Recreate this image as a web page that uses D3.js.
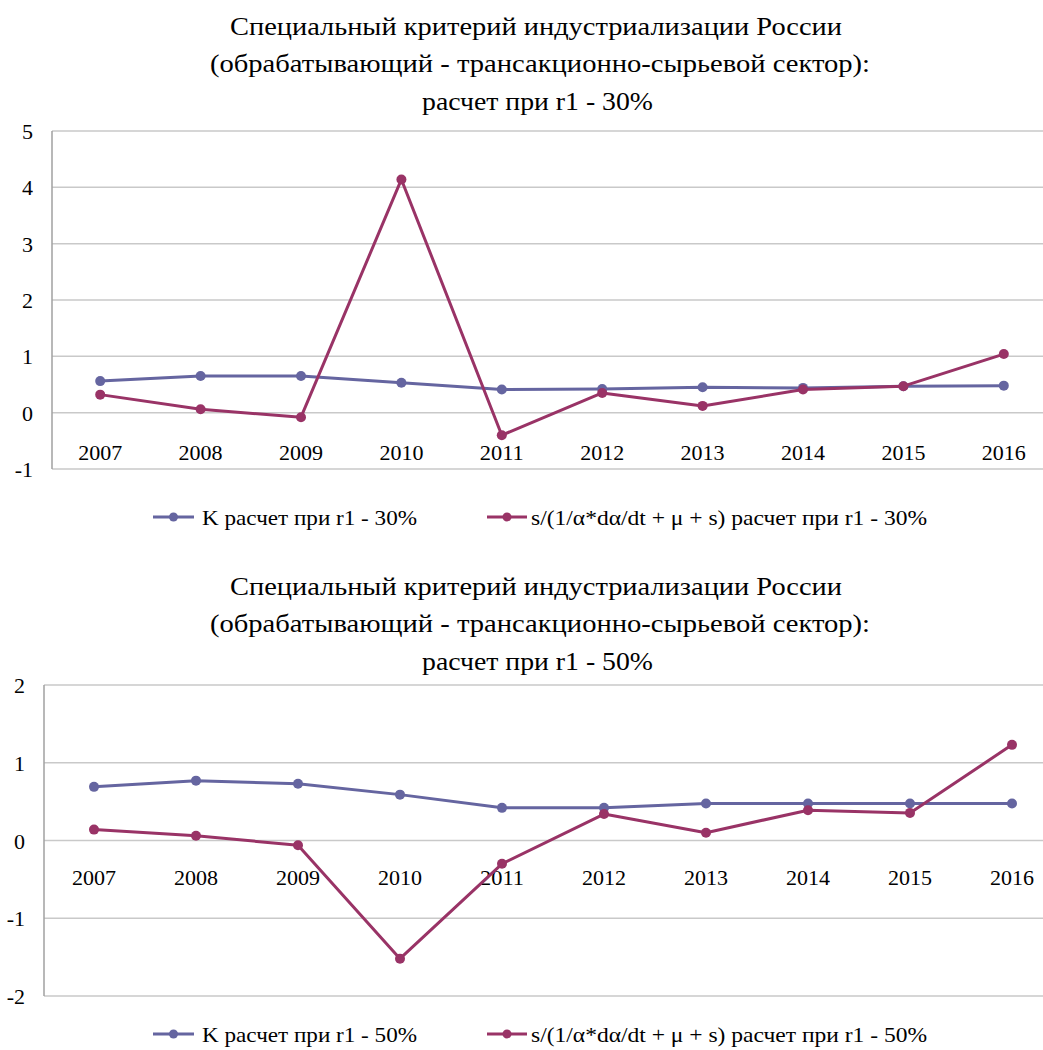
<!DOCTYPE html>
<html><head><meta charset="utf-8">
<script src="https://cdn.jsdelivr.net/npm/d3@7"></script>
<style>body{margin:0;background:#fff}svg{display:block}</style>
</head><body>
<script>
const years = ["2007","2008","2009","2010","2011","2012","2013","2014","2015","2016"];
const k30 = [0.56,0.65,0.65,0.53,0.41,0.42,0.45,0.44,0.47,0.48];
const s30 = [0.32,0.06,-0.08,4.14,-0.40,0.35,0.12,0.41,0.47,1.04];
const k50 = [0.69,0.77,0.73,0.59,0.42,0.42,0.475,0.475,0.475,0.475];
const s50 = [0.14,0.06,-0.06,-1.52,-0.30,0.34,0.10,0.39,0.355,1.23];
const yTicks30 = [-1,0,1,2,3,4,5];
const yTicks50 = [-2,-1,0,1,2];
const title30 = ["Специальный критерий индустриализации России","(обрабатывающий - трансакционно-сырьевой сектор):","расчет при r1 - 30%"];
const title50 = ["Специальный критерий индустриализации России","(обрабатывающий - трансакционно-сырьевой сектор):","расчет при r1 - 50%"];
const legend30 = ["K расчет при r1 - 30%","s/(1/α*dα/dt + μ + s) расчет при r1 - 30%"];
const legend50 = ["K расчет при r1 - 50%","s/(1/α*dα/dt + μ + s) расчет при r1 - 50%"];

const BLUE="#6565a0", RED="#993366", GRID="#c9c9c9";
const FONT="'Liberation Serif', Tinos, 'Times New Roman', 'DejaVu Serif', serif";
const titleLens=[612,660,231];
const svg=d3.select("body").append("svg").attr("width",1043).attr("height",1050)
  .attr("font-family",FONT).attr("fill","#000");

function chart(cfg){
  const g=svg.append("g");
  cfg.title.forEach((t,i)=>g.append("text").attr("x",cfg.titleX[i]).attr("y",cfg.titleY+i*37.3)
    .attr("font-size",25).attr("font-family",FONT)
    .attr("textLength",titleLens[i]).attr("lengthAdjust","spacingAndGlyphs").text(t));
  const x=d3.scaleBand().domain(years).range(cfg.xRange);
  const y=d3.scaleLinear().domain(cfg.yDom).range(cfg.yRange);
  g.append("g").selectAll("line").data(cfg.yTicks).join("line")
    .attr("x1",cfg.axisX).attr("x2",1043).attr("y1",d=>y(d)).attr("y2",d=>y(d))
    .attr("stroke",GRID).attr("stroke-width",1.5);
  g.append("line").attr("x1",cfg.axisX).attr("x2",cfg.axisX).attr("y1",y(cfg.yDom[1])).attr("y2",y(cfg.yDom[0]))
    .attr("stroke","#a0a0a0").attr("stroke-width",1.5);
  g.append("g").selectAll("text").data(cfg.yTicks).join("text")
    .attr("x",cfg.yLabX).attr("y",d=>y(d)+8).attr("text-anchor","end").attr("font-size",22).attr("font-family",FONT).text(d=>d);
  g.append("g").selectAll("text").data(years).join("text")
    .attr("x",d=>x(d)+x.bandwidth()/2).attr("y",cfg.xLabY).attr("text-anchor","middle").attr("font-size",21)
    .attr("textLength",44).attr("lengthAdjust","spacingAndGlyphs").attr("font-family",FONT).text(d=>d);
  const line=d3.line().x((d,i)=>x(years[i])+x.bandwidth()/2).y(d=>y(d));
  [[cfg.k,BLUE],[cfg.s,RED]].forEach(([vals,c])=>{
    g.append("path").attr("d",line(vals)).attr("fill","none").attr("stroke",c).attr("stroke-width",3).attr("stroke-linejoin","round");
    g.append("g").selectAll("circle").data(vals).join("circle")
      .attr("cx",(d,i)=>x(years[i])+x.bandwidth()/2).attr("cy",d=>y(d)).attr("r",5).attr("fill",c);
  });
  const lg=[[cfg.legend[0],BLUE,153,194,202,215],[cfg.legend[1],RED,487,527,531,396]];
  lg.forEach(([t,c,x1,x2,tx,tl])=>{
    g.append("line").attr("x1",x1).attr("x2",x2).attr("y1",cfg.legY).attr("y2",cfg.legY).attr("stroke",c).attr("stroke-width",3);
    g.append("circle").attr("cx",(x1+x2)/2).attr("cy",cfg.legY).attr("r",4.5).attr("fill",c);
    g.append("text").attr("x",tx).attr("y",cfg.legY+8).attr("font-size",22).attr("font-family",FONT)
      .attr("textLength",tl).attr("lengthAdjust","spacingAndGlyphs").text(t);
  });
}
chart({title:title30,titleX:[230,210,422],titleY:35,xRange:[50,1054],axisX:52,yDom:[-1,5],yRange:[469,131],yTicks:yTicks30,
  yLabX:33,xLabY:460,k:k30,s:s30,legend:legend30,legY:517});
chart({title:title50,titleX:[230,210,422],titleY:595,xRange:[43,1063],axisX:44,yDom:[-2,2],yRange:[996,685],yTicks:yTicks50,
  yLabX:25,xLabY:885,k:k50,s:s50,legend:legend50,legY:1034});
</script>
</body></html>
